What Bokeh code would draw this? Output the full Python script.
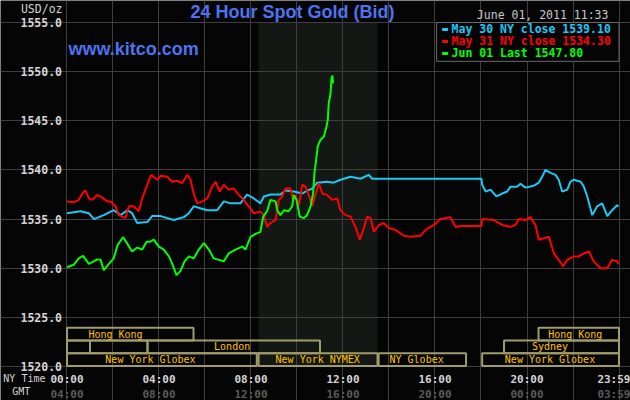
from bokeh.plotting import figure
from bokeh.models import Range1d, LinearAxis, FixedTicker, Label, ColumnDataSource, NumeralTickFormatter
from bokeh.core.properties import value
from bokeh.embed import file_html
from bokeh.resources import INLINE

# ---------------- data (hours since 00:00 NY time, USD/oz) ----------------
may30_t = [0.0, 0.59, 0.95, 1.17, 1.6, 2.03, 2.33, 2.62, 2.83, 3.05, 3.49, 3.7, 4.07, 4.36, 4.64,
           5.08, 5.3, 5.51, 5.8, 6.1, 6.53, 6.82, 7.11, 7.54, 7.83, 8.12, 8.41, 8.56, 8.85, 9.28,
           9.5, 9.86, 10.23, 10.44, 10.66, 10.88, 11.31, 11.6, 11.89, 12.33, 12.76, 13.12, 13.27,
           18.02, 18.05, 18.2, 18.41, 18.67, 18.92, 19.14, 19.28, 19.57, 19.72, 19.93, 20.3, 20.51,
           20.66, 20.8, 21.02, 21.24, 21.38, 21.53, 21.75, 21.89, 22.03, 22.33, 22.47, 22.62, 22.84,
           23.05, 23.27, 23.49, 23.7, 23.92, 23.98]
may30_v = [1535.6, 1535.8, 1535.6, 1535.0, 1535.4, 1535.9, 1535.4, 1535.9, 1535.6, 1534.6, 1534.7,
           1535.3, 1535.3, 1535.1, 1534.9, 1535.2, 1535.6, 1536.3, 1536.1, 1535.9, 1535.9, 1536.8,
           1536.6, 1536.6, 1537.5, 1537.1, 1536.6, 1537.3, 1537.5, 1537.5, 1537.9, 1537.8, 1537.6,
           1537.9, 1538.1, 1538.7, 1538.8, 1538.7, 1539.0, 1539.3, 1539.1, 1539.5, 1539.1,
           1539.1, 1538.5, 1537.8, 1538.0, 1537.3, 1537.6, 1537.8, 1538.3, 1538.3, 1538.6, 1538.2,
           1538.4, 1538.7, 1539.3, 1540.0, 1539.7, 1539.5, 1539.0, 1537.8, 1538.0, 1538.8, 1539.0,
           1538.8, 1538.3, 1537.3, 1535.4, 1536.3, 1536.6, 1535.3, 1535.9, 1536.4, 1536.3]

may31_t = [0.0, 0.29, 0.51, 0.66, 0.8, 0.95, 1.1, 1.31, 1.53, 1.75, 1.89, 2.11, 2.25, 2.4, 2.54,
           2.69, 2.9, 3.12, 3.27, 3.46, 3.6, 3.66, 3.92, 4.07, 4.36, 4.57, 4.79, 5.01, 5.23, 5.37,
           5.51, 5.66, 5.88, 6.1, 6.31, 6.46, 6.64, 6.82, 7.03, 7.25, 7.47, 7.69, 7.9, 8.12, 8.41,
           8.56, 8.7, 8.85, 9.07, 9.21, 9.36, 9.5, 9.72, 9.83, 9.93, 10.08, 10.23, 10.37, 10.51,
           10.66, 10.8, 10.95, 11.1, 11.31, 11.53, 11.75, 11.89, 12.11, 12.33, 12.54, 12.73, 12.88,
           13.05, 13.2, 13.34, 13.56, 13.77, 13.99, 14.28, 14.64, 14.93, 15.37, 15.59, 15.95, 16.24,
           16.67, 16.89, 17.1, 18.02, 18.05, 18.56, 18.92, 19.28, 19.5, 19.64, 19.93, 20.15, 20.37,
           20.51, 20.73, 20.95, 21.17, 21.38, 21.57, 21.75, 22.03, 22.25, 22.47, 22.69, 22.9, 23.2,
           23.49, 23.7, 23.92, 23.98]
may31_v = [1536.8, 1536.7, 1536.95, 1537.6, 1537.9, 1537.1, 1536.95, 1537.45, 1537.2, 1536.8,
           1536.8, 1536.3, 1535.4, 1535.25, 1535.1, 1536.3, 1536.3, 1535.8, 1537.1, 1538.3, 1539.15,
           1539.5, 1539.0, 1539.4, 1539.3, 1538.8, 1538.9, 1538.65, 1539.5, 1539.0, 1537.6, 1536.6,
           1536.8, 1537.1, 1538.3, 1538.8, 1537.8, 1538.5, 1538.0, 1538.1, 1537.45, 1536.95, 1536.3,
           1535.6, 1535.76, 1535.4, 1534.2, 1534.6, 1534.9, 1536.95, 1537.3, 1538.1, 1538.1, 1536.95,
           1537.45, 1536.4, 1538.5, 1538.3, 1537.45, 1536.3, 1537.45, 1538.65, 1537.6, 1537.45,
           1536.95, 1537.1, 1535.9, 1535.4, 1535.25, 1534.2, 1532.9, 1533.9, 1535.25, 1535.1, 1533.7,
           1534.4, 1534.6, 1534.1, 1533.9, 1533.3, 1533.2, 1533.3, 1533.9, 1534.4, 1535.0, 1535.2,
           1534.2, 1534.3, 1534.3, 1535.0, 1534.9, 1534.4, 1534.2, 1534.4, 1535.0, 1534.9, 1535.2,
           1534.4, 1532.9, 1533.05, 1533.2, 1531.5, 1530.85, 1530.2, 1530.85, 1531.2, 1531.2, 1531.5,
           1531.7, 1530.7, 1530.0, 1530.0, 1530.85, 1530.7, 1530.4]

jun01_t = [0.0, 0.29, 0.51, 0.7, 0.95, 1.17, 1.31, 1.46, 1.6, 1.82, 2.03, 2.21, 2.44, 2.62, 2.83,
           3.05, 3.27, 3.46, 3.63, 3.77, 3.99, 4.21, 4.43, 4.57, 4.76, 4.93, 5.11, 5.3, 5.51, 5.73,
           5.95, 6.17, 6.38, 6.6, 6.82, 7.03, 7.33, 7.62, 7.76, 7.98, 8.2, 8.41, 8.53, 8.7, 8.85,
           9.07, 9.14, 9.28, 9.43, 9.64, 9.79, 9.86, 9.98, 10.12, 10.3, 10.44, 10.59, 10.7, 10.76,
           10.85, 10.9, 11.02, 11.17, 11.28, 11.34, 11.38, 11.46, 11.5, 11.54, 11.57]
jun01_v = [1530.1, 1530.35, 1531.0, 1531.25, 1530.45, 1530.7, 1530.9, 1530.85, 1529.8, 1530.45,
           1531.0, 1532.4, 1533.15, 1532.5, 1531.7, 1532.1, 1531.9, 1532.7, 1532.7, 1532.9, 1532.2,
           1531.9, 1531.2, 1530.5, 1529.3, 1529.7, 1530.7, 1531.2, 1531.0, 1531.9, 1532.55, 1531.9,
           1531.0, 1530.85, 1530.7, 1531.5, 1531.9, 1532.2, 1531.9, 1533.2, 1533.5, 1533.7, 1535.25,
           1535.8, 1536.95, 1536.8, 1535.9, 1535.4, 1535.9, 1535.8, 1536.3, 1537.45, 1536.95, 1535.25,
           1535.1, 1535.4, 1536.3, 1537.6, 1539.7, 1541.35, 1542.4, 1543.05, 1543.4, 1544.4, 1545.1,
           1546.8, 1547.8, 1549.3, 1549.6, 1548.8]

series_labels = ["May 30 NY close 1539.10", "May 31 NY close 1534.30", "Jun 01 Last 1547.80"]
series_colors = ["#1ec8f5", "#ff0000", "#00ff00"]

price_ticks = [1520, 1525, 1530, 1535, 1540, 1545, 1550, 1555]
grid_hours = [0, 2, 4, 6, 8, 10, 12, 14, 16, 18, 20, 22, 24]
hour_ticks = [0, 4, 8, 12, 16, 20, 24]
ny_labels = ["00:00", "04:00", "08:00", "12:00", "16:00", "20:00", "23:59"]
gmt_labels = ["04:00", "08:00", "12:00", "16:00", "20:00", "00:00", "03:59"]

session_names = ["Hong Kong", "", "", "London", "New York Globex", "New York NYMEX",
                 "NY Globex", "New York Globex", "Sydney", "Hong Kong"]
session_start = [0.0, 0.0, 1.0, 3.5, 0.0, 8.33, 13.55, 18.05, 19.0, 20.5]
session_end = [5.5, 1.0, 3.5, 11.0, 8.25, 13.5, 17.35, 24.0, 24.0, 24.0]
session_row = [0, 1, 1, 1, 2, 2, 2, 2, 1, 0]
session_label_x = [2.11, 0.5, 2.25, 7.18, 3.63, 10.9, 15.2, 21.0, 21.0, 22.1]

nymex_open, nymex_close = 8.333, 13.5

# ---------------- styling ----------------
BG = "#050505"
GRID = "#3e3e3e"
AXIS_TXT = "#d4d4d4"
GMT_TXT = "#5a5a5a"
BLUE_TXT = "#4d74f0"
SESSION_LINE = "#a09c6c"
SESSION_TXT = "#ffc400"
MONO = "DejaVu Sans Mono"

row_top = [1523.95, 1522.65, 1521.35]
row_bottom = [1522.65, 1521.35, 1520.05]

# whole canvas is the frame; the price area 0-24 h x 1520-1555 sits inside it
p = figure(width=630, height=400, x_range=Range1d(-2.8913, 24.5), y_range=Range1d(1516.5407, 1557.2384),
           output_backend="svg", toolbar_location=None,
           min_border_left=0, min_border_right=0, min_border_top=0, min_border_bottom=0)
p.background_fill_color = BG
p.border_fill_color = BG
p.outline_line_color = None

shade = p.quad(left=[nymex_open], right=[nymex_close], bottom=[1520], top=[1555],
               fill_color="#141814", line_color=None)
shade.level = "image"

p.xgrid.ticker = FixedTicker(ticks=grid_hours)
p.xgrid.bounds = (1520, 1555)
p.ygrid.ticker = FixedTicker(ticks=price_ticks)
p.ygrid.bounds = (0, 24)
p.grid.grid_line_color = GRID
p.grid.grid_line_width = 1

p.yaxis.ticker = FixedTicker(ticks=price_ticks)
p.yaxis.formatter = NumeralTickFormatter(format="0.0")
p.yaxis.fixed_location = 0

p.xaxis.ticker = FixedTicker(ticks=hour_ticks)
p.xaxis.major_label_overrides = {t: s for t, s in zip(hour_ticks, ny_labels)}
p.xaxis.fixed_location = 1520
gmt_axis = LinearAxis(ticker=FixedTicker(ticks=hour_ticks), fixed_location=1520,
                      major_label_overrides={t: s for t, s in zip(hour_ticks, gmt_labels)})
p.add_layout(gmt_axis, "below")

for ax in list(p.xaxis) + list(p.yaxis):
    ax.axis_line_color = None
    ax.major_tick_line_color = None
    ax.minor_tick_line_color = None
    ax.major_tick_out = 0
    ax.major_tick_in = 0
    ax.minor_tick_out = 0
    ax.minor_tick_in = 0
    ax.major_label_text_font = MONO
    ax.major_label_text_font_size = "11px"
    ax.major_label_text_font_style = "bold"
    ax.major_label_text_color = AXIS_TXT
    ax.major_label_standoff = 6
p.yaxis.major_label_text_font_size = "11.5px"
p.yaxis.major_label_standoff = 5
gmt_axis.major_label_standoff = 21
gmt_axis.major_label_text_color = GMT_TXT

sess = ColumnDataSource(dict(
    left=session_start, right=session_end,
    top=[row_top[r] for r in session_row], bottom=[row_bottom[r] for r in session_row],
    name=session_names, lx=session_label_x,
    ly=[(row_top[r] + row_bottom[r]) / 2 for r in session_row]))
p.quad(left="left", right="right", top="top", bottom="bottom", source=sess,
       fill_color=None, line_color=SESSION_LINE, line_width=2)
p.text(x="lx", y="ly", text="name", source=sess, text_align="center", text_baseline="middle",
       text_font=value(MONO), text_font_size="10px", text_color=SESSION_TXT)

for t, v, c in [(may30_t, may30_v, series_colors[0]), (may31_t, may31_v, series_colors[1]),
                (jun01_t, jun01_v, series_colors[2])]:
    p.line(t, v, line_color=c, line_width=2)

legend_left = 16.07
p.quad(left=[legend_left], right=[24], bottom=[1551.05], top=[1555], fill_color=BG,
       line_color="#6a6a6a", line_width=1)
leg_y = [1554.29, 1553.07, 1551.85]
p.segment(x0=[16.31] * 3, x1=[16.57] * 3, y0=leg_y, y1=leg_y, line_color=series_colors, line_width=3)
p.text(x=[16.72] * 3, y=leg_y, text=series_labels, text_color=series_colors, text_align="left",
       text_baseline="middle", text_font=value(MONO), text_font_size="11.5px", text_font_style="bold")

p.add_layout(Label(x=5.37, y=1556.04, text="24 Hour Spot Gold (Bid)", text_align="left",
                   text_baseline="middle", text_font="Liberation Sans", text_font_style="bold",
                   text_font_size="18px", text_color=BLUE_TXT))
p.add_layout(Label(x=23.54, y=1555.78, text="June 01, 2011 11:33", text_align="right",
                   text_baseline="middle", text_font=MONO, text_font_size="11.5px",
                   text_color="#c8c8c8"))
p.add_layout(Label(x=-0.196, y=1556.39, text="USD/oz", text_align="right",
                   text_baseline="middle", text_font=MONO, text_font_size="11.5px",
                   text_color=AXIS_TXT))
p.add_layout(Label(x=0.065, y=1552.28, text="www.kitco.com", text_align="left",
                   text_baseline="middle", text_font="Liberation Sans", text_font_style="bold",
                   text_font_size="18px", text_color=BLUE_TXT))
p.add_layout(Label(x=-0.935, y=1518.73, text="NY Time", text_align="right", text_baseline="middle",
                   text_font=MONO, text_font_size="10px", text_color=AXIS_TXT))
p.add_layout(Label(x=-1.987, y=1517.41, text="GMT", text_align="center", text_baseline="middle",
                   text_font=MONO, text_font_size="10px", text_color=AXIS_TXT))

open("out.html", "w").write(file_html(p, INLINE))
